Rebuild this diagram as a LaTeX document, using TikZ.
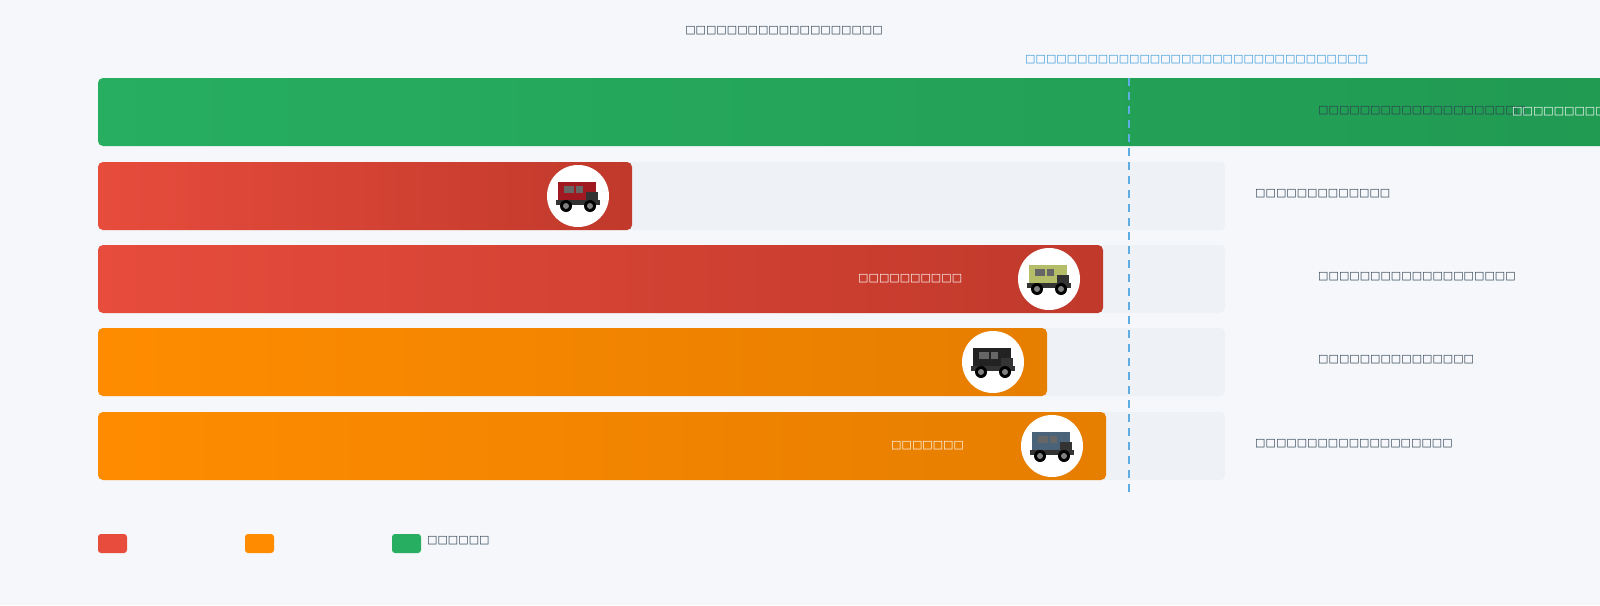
\documentclass[tikz,border=0pt]{standalone}
\usepackage{fontspec}
\setmainfont{DejaVu Sans}
\definecolor{bg}{HTML}{F5F7FA}
\definecolor{track}{HTML}{EEF2F6}
\definecolor{dark}{HTML}{2C3E50}
\definecolor{blu}{HTML}{3498DB}
\definecolor{dashc}{HTML}{5DADE2}
\definecolor{rA}{HTML}{E74C3C}\definecolor{rB}{HTML}{C0392B}
\definecolor{oA}{HTML}{FF8C00}\definecolor{oB}{HTML}{E67E00}
\definecolor{gA}{HTML}{27AE60}\definecolor{gB}{HTML}{219A52}
\definecolor{cA}{HTML}{A01820}\definecolor{cB}{HTML}{B5BD68}
\definecolor{cC}{HTML}{222222}\definecolor{cD}{HTML}{4A6378}
\newcommand\tf[1]{\foreach\i in {1,...,#1}{\char"25A1}}
\tikzset{x=1pt,y=-1pt,
 lab/.style={anchor=west,inner sep=0pt,font=\fontsize{11}{11}\selectfont,text=dark},
 wlab/.style={lab,text=white},
 bar/.style={rounded corners=5pt},
 trk/.style={fill=track,rounded corners=5pt},
 pic/.style={circle,fill=white,minimum size=62pt,inner sep=0pt}}
\newcommand\car[2]{%
 \begin{scope}[shift={#1}]
 \fill[#2] (-20,-14) rectangle (18,8);
 \fill[black!60] (-14,-10) rectangle (-4,-3);
 \fill[black!60] (-2,-10) rectangle (5,-3);
 \fill[black!80] (8,-4) rectangle (20,6);
 \fill[black!80] (-22,4) rectangle (22,9);
 \fill[black] (-12,10) circle (6); \fill[gray] (-12,10) circle (3);
 \fill[black] (12,10) circle (6); \fill[gray] (12,10) circle (3);
 \end{scope}}
\begin{document}
\begin{tikzpicture}
\useasboundingbox (0,0) rectangle (1600,605);
\fill[bg] (0,0) rectangle (1600,605);
\node[lab,anchor=center] (title) at (784,31) {\tf{19}};
\node[lab,text=blu] (note) at (1025,60) {\tf{33}};
\foreach \y in {162,245,328,412}{\fill[trk] (98,\y) rectangle (1225,\y+68);}
\begin{scope}
\clip (0,0) rectangle (1600,605);
\shade[bar,left color=gA,right color=gB] (98,78) rectangle (1620,146);
\end{scope}
\shade[bar,left color=rA,right color=rB] (98,162) rectangle (632,230);
\shade[bar,left color=rA,right color=rB] (98,245) rectangle (1103,313);
\shade[bar,left color=oA,right color=oB] (98,328) rectangle (1047,396);
\shade[bar,left color=oA,right color=oB] (98,412) rectangle (1106,480);
\node[lab] (t1) at (1318,111) {\tf{20}};
\node[wlab] (t1b) at (1512,112) {\tf{9}};
\node[lab] (t2) at (1255,194) {\tf{13}};
\node[wlab] (w3) at (858,279) {\tf{10}};
\node[lab] (t3) at (1318,277) {\tf{19}};
\node[lab] (t4) at (1318,360) {\tf{15}};
\node[wlab] (w5) at (891,446) {\tf{7}};
\node[lab] (t5) at (1255,444) {\tf{19}};
\node[pic] (p2) at (578,196) {}; \car{(578,196)}{cA}
\node[pic] (p3) at (1049,279) {}; \car{(1049,279)}{cB}
\node[pic] (p4) at (993,362) {}; \car{(993,362)}{cC}
\node[pic] (p5) at (1052,446) {}; \car{(1052,446)}{cD}
\coordinate (d1) at (1129,78); \coordinate (d2) at (1129,494);
\draw[dashc,line width=2pt,dash pattern=on 8pt off 6pt] (d1) -- (d2);
\fill[rA,rounded corners=3pt] (98,534) rectangle (127,553);
\fill[oA,rounded corners=3pt] (245,534) rectangle (274,553);
\fill[gA,rounded corners=3pt] (392,534) rectangle (421,553);
\node[lab] (lg) at (427,541) {\tf{6}};
\end{tikzpicture}
\end{document}
